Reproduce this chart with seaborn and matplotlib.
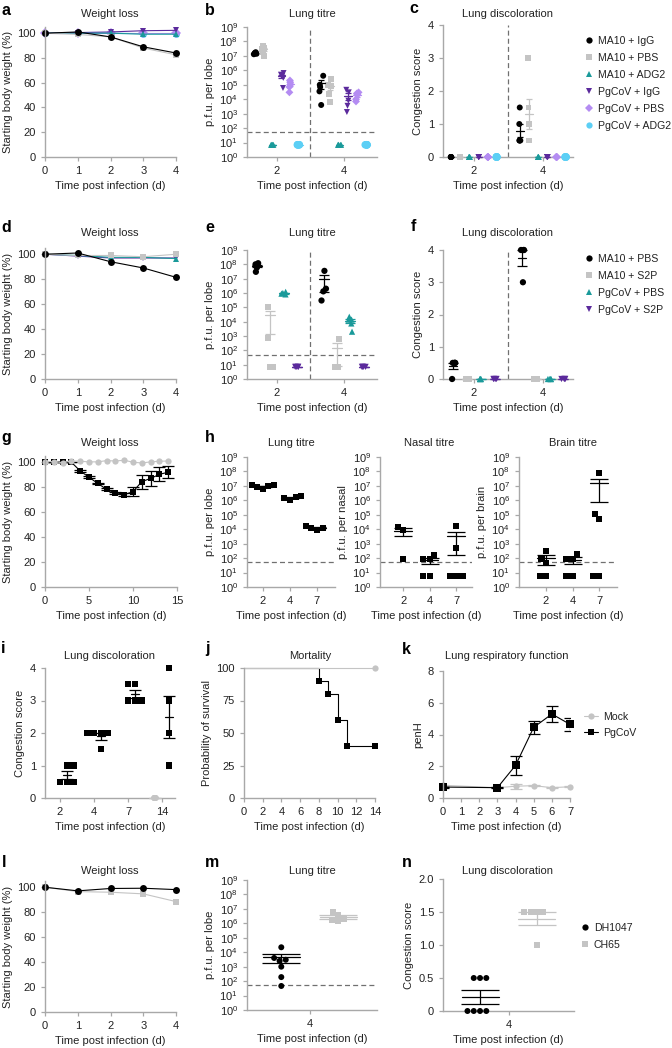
import numpy as np
import pandas as pd
import seaborn as sns
import matplotlib.pyplot as plt
from matplotlib.lines import Line2D

# ---------------- values ----------------
weight_days = [0, 1, 2, 3, 4]
titre_days = [2, 4]

# panels a-c
abc_names = ['MA10 + IgG', 'MA10 + PBS', 'MA10 + ADG2', 'PgCoV + IgG', 'PgCoV + PBS', 'PgCoV + ADG2']
abc_colors = ['#000000', '#c4c4c4', '#1a9a9a', '#5b2a9c', '#b48cf2', '#5ccff5']
abc_markers = ['o', 's', '^', 'v', 'D', 'o']
a_ma10_igg = [100, 101, 97, 89, 84]
a_ma10_pbs = [100, 99, 97, 88, 82.5]
a_ma10_adg2 = [100, 100, 100, 99.2, 99.2]
a_pgcov_igg = [100, 100.5, 101, 102, 102.3]
a_pgcov_pbs = [100, 100, 100, 100, 100]
a_pgcov_adg2 = [100, 100, 100, 99.6, 99.7]

b_ma10_igg = [[1.5e7, 1.8e7, 1.3e7, 1.6e7, 1.4e7], [4.2e5, 1.0e5, 7e4, 3.5e4, 4e3]]
b_ma10_pbs = [[3e7, 4.5e7, 1e7, 2e7, 3.5e7], [2.4e5, 9e4, 8e4, 2.2e4, 6e3]]
b_ma10_adg2 = [[7, 7, 7, 7, 7], [7, 7, 7, 7, 7]]
b_pgcov_igg = [[6.5e5, 4e5, 3e5, 6e4, 5e5], [4.5e4, 3e4, 8e3, 3.5e3, 1.3e3]]
b_pgcov_pbs = [[2e5, 1.5e5, 7e4, 3e4, 1e5], [3e4, 2e4, 1e4, 7e3, 2.5e4]]
b_pgcov_adg2 = [[7, 7, 7, 7, 7], [7, 7, 7, 7, 7]]

c_ma10_igg = [[0, 0, 0, 0, 0], [1.5, 1.0, 0.5, 0.5, 0.5]]
c_ma10_pbs = [[0, 0, 0, 0, 0], [3.0, 1.5, 1.0, 0.5, 0.5]]
c_ma10_adg2 = [[0, 0, 0, 0, 0], [0, 0, 0, 0, 0]]
c_pgcov_igg = [[0, 0, 0, 0, 0], [0, 0, 0, 0, 0]]
c_pgcov_pbs = [[0, 0, 0, 0, 0], [0, 0, 0, 0, 0]]
c_pgcov_adg2 = [[0, 0, 0, 0, 0], [0, 0, 0, 0, 0]]

# panels d-f
def_names = ['MA10 + PBS', 'MA10 + S2P', 'PgCoV + PBS', 'PgCoV + S2P']
def_colors = ['#000000', '#c4c4c4', '#1a9a9a', '#5b2a9c']
def_markers = ['o', 's', '^', 'v']
d_ma10_pbs = [100, 101, 94, 89, 81.5]
d_ma10_s2p = [100, 99, 99, 98, 100]
d_pgcov_pbs = [100, 99, 97.5, 97.5, 96.5]
d_pgcov_s2p = [100, 98.5, 97, 97, 97]

e_ma10_pbs = [[1e8, 1.2e8, 8e7, 6e7, 3e7], [3.5e7, 2e6, 1.3e6, 3e5]]
e_ma10_s2p = [[1.1e5, 7e2, 7, 7], [6e2, 7, 7, 7]]
e_pgcov_pbs = [[1.2e6, 1e6, 9e5, 8e5], [2.2e4, 1.4e4, 1.4e4, 7.5e3, 2e3]]
e_pgcov_s2p = [[7, 7, 7, 7], [7, 7, 7, 7]]

f_ma10_pbs = [[0.5, 0.5, 0.5, 0.5, 0], [4, 4, 4, 3]]
f_ma10_s2p = [[0, 0, 0, 0], [0, 0, 0, 0]]
f_pgcov_pbs = [[0, 0, 0, 0], [0, 0, 0, 0]]
f_pgcov_s2p = [[0, 0, 0, 0], [0, 0, 0, 0]]

# panels g-k
g_days = list(range(15))
g_mock = [100.5, 100.5, 99.7, 101, 100.8, 100.3, 100.3, 101.3, 101, 101.6, 100, 99.4, 100.3, 100.8, 101]
g_pgcov = [100, 100, 100, 100, 93, 88, 83, 78.3, 75, 74, 76.4, 84.5, 87, 90.3, 92]
g_pgcov_sem = [0, 0, 0, 0, 0.6, 0.6, 0.6, 0.8, 0.8, 1.0, 3.8, 5.6, 6.2, 5.6, 4.8]

h_days = [2, 4, 7]
h_lung = [[8.5e6, 1.2e7, 1.1e7, 5.9e6, 1e7], [1.7e6, 1.9e6, 1.55e6, 1.1e6], [9.3e3, 1.6e4, 1.3e4, 1.3e4]]
h_nasal = [[1.5e4, 8.5e3, 90], [170, 90, 90, 6, 6], [1.6e4, 480, 6, 6, 6]]
h_brain = [[45, 330, 90, 6, 6], [90, 190, 90, 6, 6], [8e7, 5e4, 1.1e5, 6, 6]]

i_days = [2, 4, 7, 14]
i_mock = [[], [], [], [0, 0, 0, 0, 0]]
i_pgcov = [[1.0, 1.0, 0.5, 0.5, 0.5], [2.0, 2.0, 2.0, 2.0, 1.5], [3.5, 3.5, 3.0, 3.0, 3.0], [4.0, 3.0, 2.0, 1.0]]

j_days_mock = [0, 14]
j_surv_mock = [100, 100]
j_days_pgcov = [0, 8, 9, 10, 11, 14]
j_surv_pgcov = [100, 90, 80, 60, 40, 40]

k_days = [0, 3, 4, 5, 6, 7]
k_mock = [0.8, 0.65, 0.74, 0.78, 0.65, 0.71]
k_mock_sem = [0.03, 0.02, 0.15, 0.05, 0.04, 0.04]
k_pgcov = [0.69, 0.65, 2.06, 4.45, 5.29, 4.64]
k_pgcov_sem = [0.03, 0.03, 0.58, 0.4, 0.5, 0.41]

# panels l-n
lmn_names = ['DH1047', 'CH65']
lmn_colors = ['#000000', '#c4c4c4']
l_dh1047 = [100, 97.1, 99, 99.2, 98.1]
l_ch65 = [100, 96.5, 96, 94.7, 88.5]
m_dh1047 = [2.2e4, 4e3, 3e3, 2.5e3, 1e3, 190, 46]
m_ch65 = [5.7e6, 3.8e6, 1.9e6, 1.7e6, 1.35e6]
n_dh1047 = [0, 0, 0, 0, 0.5, 0.5, 0.5]
n_ch65 = [1.5, 1.5, 1.5, 1.5, 1.0]

# ---------------- style ----------------
sns.set_theme(style='ticks')
plt.rcParams['font.family'] = ['Liberation Sans', 'DejaVu Sans']
plt.rcParams.update({
    'font.size': 8, 'axes.labelsize': 8, 'xtick.labelsize': 8, 'ytick.labelsize': 8,
    'legend.fontsize': 7.6, 'axes.edgecolor': '#a8a8a8', 'axes.linewidth': 1.0,
    'xtick.color': '#a8a8a8', 'ytick.color': '#a8a8a8',
    'xtick.labelcolor': '#222222', 'ytick.labelcolor': '#222222',
    'axes.labelcolor': '#222222', 'text.color': '#222222',
    'xtick.major.size': 3, 'ytick.major.size': 3, 'xtick.major.width': 0.9, 'ytick.major.width': 0.9,
    'lines.linewidth': 0.8, 'axes.labelpad': 3.5,
    'mathtext.fontset': 'custom', 'mathtext.rm': 'Liberation Sans',
})
np.random.seed(3)

W, H = 672, 1048
fig = plt.figure(figsize=(W / 100, H / 100), dpi=100)
XLAB = 'Time post infection (d)'
LOD_KW = dict(color='#707070', lw=0.9, ls=(0, (4, 2.5)), zorder=1)
LW = 0.8


def add_ax(x0, x1, y0, y1):
    return fig.add_axes([x0 / W, 1 - y1 / H, (x1 - x0) / W, (y1 - y0) / H])


def ftext(x, y, s, **kw):
    fig.text(x / W, 1 - y / H, s, **kw)


def letter(x, y, s):
    ftext(x, y, s, fontsize=11.5, fontweight='bold', color='black', va='baseline')


def title(x, y, s):
    ftext(x, y, s, ha='center', va='center')


def finish(ax, ylabel):
    sns.despine(ax=ax)
    ax.set_xlabel(XLAB)
    ax.set_ylabel(ylabel)


def log_axis(ax):
    ax.set_yscale('log')
    ax.set_ylim(1, 1e9)
    ax.set_yticks([10.0 ** k for k in range(10)])
    ax.set_yticklabels(['$\\mathregular{10^{%d}}$' % k for k in range(10)])
    ax.minorticks_off()


def mean_sem(ax, x, vals, color, hw, cap, log=False):
    vals = np.asarray(vals, float)
    m = vals.mean()
    s = vals.std(ddof=1) / np.sqrt(len(vals))
    lo = min(s, m * 0.95) if log else s
    ax.errorbar([x], [m], yerr=[[lo], [s]], fmt='none', ecolor=color, elinewidth=0.9,
                capsize=cap, capthick=0.9, zorder=4, clip_on=False)
    ax.plot([x - hw, x + hw], [m, m], color=color, linewidth=0.9, zorder=4)


def dot_panel(ax, days, groups, names, colors, markers, sizes, kinds,
              jitter=0.1, hw=0.06, cap=2, log=False):
    order = [str(d) for d in days]
    n = len(names)
    offs = np.linspace(0, 0.8 - 0.8 / n, n)
    offs -= offs.mean()
    pal = dict(zip(names, colors))
    for gi in range(n):
        present = [(di, v) for di, v in enumerate(groups[gi]) if len(v)]
        df = pd.DataFrame({
            'day': np.concatenate([[order[di]] * len(v) for di, v in present]),
            'value': np.concatenate([v for _, v in present]).astype(float),
            'group': names[gi]})
        kw = dict(data=df, x='day', y='value', hue='group', hue_order=names, order=order,
                  palette=pal, dodge=True, marker=markers[gi], size=sizes[gi],
                  legend=False, ax=ax, zorder=3, clip_on=False)
        if kinds[gi] == 'swarm':
            sns.swarmplot(**kw)
        else:
            sns.stripplot(jitter=jitter, **kw)
        for di, v in present:
            mean_sem(ax, di + offs[gi], v, colors[gi], hw, cap, log)


def weight_panel(ax, days, series, names, colors, markers, ms=5):
    df = pd.DataFrame({'day': np.tile(days, len(series)),
                       'weight': np.concatenate(series),
                       'group': np.repeat(names, len(days))})
    sns.lineplot(data=df, x='day', y='weight', hue='group', style='group',
                 hue_order=names[::-1], style_order=names[::-1],
                 palette=dict(zip(names, colors)), markers=dict(zip(names, markers)),
                 dashes=False, linewidth=LW, markersize=ms, markeredgewidth=0,
                 errorbar=None, legend=False, ax=ax, clip_on=False)
    ax.set_xlim(0, days[-1])
    ax.set_ylim(0, 105)
    ax.set_xticks(days)
    ax.set_yticks([0, 20, 40, 60, 80, 100])
    finish(ax, 'Starting body weight (%)')


def marker_legend(names, colors, markers, x, y, ms=4.5):
    handles = [Line2D([], [], ls='', marker=mk, color=c, ms=ms, mew=0)
               for c, mk in zip(colors, markers)]
    fig.legend(handles, names, loc='upper left', bbox_to_anchor=(x / W, 1 - y / H),
               frameon=False, handlelength=0.8, handletextpad=0.4, labelspacing=0.66,
               borderpad=0, borderaxespad=0)


# ---------------- row 1: a b c ----------------
ax_a = add_ax(45, 176, 27, 157)
weight_panel(ax_a, weight_days,
             [a_ma10_igg, a_ma10_pbs, a_ma10_adg2, a_pgcov_igg, a_pgcov_pbs, a_pgcov_adg2],
             abc_names, abc_colors, abc_markers)

ax_b = add_ax(247, 377, 27, 157)
dot_panel(ax_b, titre_days,
          [b_ma10_igg, b_ma10_pbs, b_ma10_adg2, b_pgcov_igg, b_pgcov_pbs, b_pgcov_adg2],
          abc_names, abc_colors, abc_markers, [4.3, 4.3, 4.3, 4.3, 4.0, 5.5], ['strip'] * 6,
          jitter=0.2, hw=0.055, cap=2, log=True)
log_axis(ax_b)
ax_b.axhline(50, **LOD_KW)
ax_b.axvline(0.5, **LOD_KW)
ax_b.set_xlim(-0.45, 1.5)
finish(ax_b, 'p.f.u. per lobe')

ax_c = add_ax(443, 573, 25, 157)
dot_panel(ax_c, titre_days,
          [c_ma10_igg, c_ma10_pbs, c_ma10_adg2, c_pgcov_igg, c_pgcov_pbs, c_pgcov_adg2],
          abc_names, abc_colors, abc_markers, [4.3, 4.3, 4.3, 4.3, 4.0, 5.5], ['strip'] * 6,
          jitter=0.05, hw=0.055, cap=2)
ax_c.axvline(0.5, **LOD_KW)
ax_c.set_xlim(-0.45, 1.44)
ax_c.set_ylim(0, 4)
ax_c.set_yticks([0, 1, 2, 3, 4])
finish(ax_c, 'Congestion score')
marker_legend(abc_names, abc_colors, abc_markers, 585, 36)

# ---------------- row 2: d e f ----------------
ax_d = add_ax(45, 176, 248, 379)
weight_panel(ax_d, weight_days, [d_ma10_pbs, d_ma10_s2p, d_pgcov_pbs, d_pgcov_s2p],
             def_names, def_colors, def_markers)

ax_e = add_ax(247, 377, 250, 379)
dot_panel(ax_e, titre_days, [e_ma10_pbs, e_ma10_s2p, e_pgcov_pbs, e_pgcov_s2p],
          def_names, def_colors, def_markers, [4.5] * 4, ['strip'] * 4,
          jitter=0.15, hw=0.075, cap=3.5, log=True)
log_axis(ax_e)
ax_e.axhline(50, **LOD_KW)
ax_e.axvline(0.5, **LOD_KW)
ax_e.set_xlim(-0.45, 1.5)
finish(ax_e, 'p.f.u. per lobe')

ax_f = add_ax(443, 573, 250, 379)
dot_panel(ax_f, titre_days, [f_ma10_pbs, f_ma10_s2p, f_pgcov_pbs, f_pgcov_s2p],
          def_names, def_colors, def_markers, [4.5] * 4, ['strip'] * 4,
          jitter=0.12, hw=0.06, cap=3.5)
ax_f.axvline(0.5, **LOD_KW)
ax_f.set_xlim(-0.45, 1.44)
ax_f.set_ylim(0, 4)
ax_f.set_yticks([0, 1, 2, 3, 4])
finish(ax_f, 'Congestion score')
marker_legend(def_names, def_colors, def_markers, 585, 254)

# ---------------- row 3: g h ----------------
ax_g = add_ax(45, 177, 456, 587)
sns.lineplot(x=g_days, y=g_pgcov, color='black', marker='s', markersize=5, markeredgewidth=0,
             linewidth=LW, ax=ax_g, clip_on=False)
ax_g.errorbar(g_days, g_pgcov, yerr=g_pgcov_sem, fmt='none', ecolor='black', elinewidth=0.9,
              capsize=4, capthick=0.9, zorder=2)
sns.lineplot(x=g_days, y=g_mock, color='#c4c4c4', marker='o', markersize=4.5, markeredgewidth=0,
             linewidth=LW, ax=ax_g, clip_on=False)
ax_g.set_xlim(0, 15)
ax_g.set_ylim(0, 105)
ax_g.set_xticks([0, 5, 10, 15])
ax_g.set_yticks([0, 20, 40, 60, 80, 100])
finish(ax_g, 'Starting body weight (%)')

h_specs = [(h_lung, 'p.f.u. per lobe', 247, 335, (-0.59, 2.67)),
           (h_nasal, 'p.f.u. per nasal', 380, 472, (-0.87, 2.6)),
           (h_brain, 'p.f.u. per brain', 519, 617, (-1.02, 2.68))]
for vals, ylab, x0, x1, xl in h_specs:
    ax_h = add_ax(x0, x1, 457, 587)
    dot_panel(ax_h, h_days, [vals], ['PgCoV'], ['black'], ['s'], [4.4], ['swarm'],
              hw=0.33, cap=6.5, log=True)
    log_axis(ax_h)
    ax_h.axhline(50, **LOD_KW)
    ax_h.set_xlim(*xl)
    finish(ax_h, ylab)

# ---------------- row 4: i j k ----------------
ax_i = add_ax(45, 175, 668, 798)
dot_panel(ax_i, i_days, [i_mock, i_pgcov], ['Mock', 'PgCoV'], ['#c4c4c4', 'black'],
          ['o', 's'], [4.3, 4.6], ['strip', 'swarm'], jitter=0.08, hw=0.11, cap=4)
ax_i.set_xlim(-0.44, 3.38)
ax_i.set_ylim(0, 4)
ax_i.set_yticks([0, 1, 2, 3, 4])
finish(ax_i, 'Congestion score')

ax_j = add_ax(244, 375, 668, 798)
sns.lineplot(x=j_days_pgcov, y=j_surv_pgcov, color='black', drawstyle='steps-post', linewidth=LW,
             marker='s', markersize=5, markeredgewidth=0, markevery=[1, 2, 3, 4, 5], ax=ax_j,
             clip_on=False)
sns.lineplot(x=j_days_mock, y=j_surv_mock, color='#c4c4c4', drawstyle='steps-post', linewidth=LW,
             marker='o', markersize=4.5, markeredgewidth=0, markevery=[1], ax=ax_j, clip_on=False)
ax_j.set_xlim(0, 14)
ax_j.set_ylim(0, 100)
ax_j.set_xticks(range(0, 15, 2))
ax_j.set_yticks([0, 25, 50, 75, 100])
finish(ax_j, 'Probability of survival')

ax_k = add_ax(443, 570, 671, 798)
sns.lineplot(x=k_days, y=k_mock, color='#c4c4c4', marker='o', markersize=4.5, markeredgewidth=0,
             linewidth=LW, ax=ax_k, clip_on=False)
ax_k.errorbar(k_days, k_mock, yerr=k_mock_sem, fmt='none', ecolor='#c4c4c4', elinewidth=0.9,
              capsize=4, capthick=0.9)
sns.lineplot(x=k_days, y=k_pgcov, color='black', marker='s', markersize=5.5, markeredgewidth=0,
             linewidth=LW, ax=ax_k, clip_on=False)
ax_k.errorbar(k_days, k_pgcov, yerr=k_pgcov_sem, fmt='none', ecolor='black', elinewidth=0.9,
              capsize=4, capthick=0.9)
ax_k.set_xlim(0, 7)
ax_k.set_ylim(0, 8)
ax_k.set_xticks(range(8))
ax_k.set_yticks([0, 2, 4, 6, 8])
finish(ax_k, 'penH')
k_handles = [Line2D([], [], color='#c4c4c4', marker='o', ms=4.5, mew=0, lw=LW),
             Line2D([], [], color='black', marker='s', ms=5, mew=0, lw=LW)]
fig.legend(k_handles, ['Mock', 'PgCoV'], loc='upper left', bbox_to_anchor=(584 / W, 1 - 712 / H),
           frameon=False, handlelength=1.35, handletextpad=0.45, labelspacing=0.55,
           borderpad=0, borderaxespad=0)

# ---------------- row 5: l m n ----------------
ax_l = add_ax(45, 176, 881, 1012)
weight_panel(ax_l, weight_days, [l_dh1047, l_ch65], lmn_names, lmn_colors, ['o', 's'])

ax_m = add_ax(247, 377, 880, 1010)
dot_panel(ax_m, [4], [[m_dh1047], [m_ch65]], lmn_names, lmn_colors, ['o', 's'], [4.3, 4.3],
          ['swarm', 'swarm'], hw=0.13, cap=14, log=True)
log_axis(ax_m)
ax_m.axhline(50, **LOD_KW)
ax_m.set_xlim(-0.44, 0.47)
finish(ax_m, 'p.f.u. per lobe')

ax_n = add_ax(443, 574, 879, 1011)
dot_panel(ax_n, [4], [[n_dh1047], [n_ch65]], lmn_names, lmn_colors, ['o', 's'], [4.3, 4.3],
          ['swarm', 'swarm'], hw=0.13, cap=14)
ax_n.set_xlim(-0.46, 0.46)
ax_n.set_ylim(0, 2)
ax_n.set_yticks([0, 0.5, 1.0, 1.5, 2.0])
ax_n.set_yticklabels(['0', '0.5', '1.0', '1.5', '2.0'])
finish(ax_n, 'Congestion score')
marker_legend(lmn_names, lmn_colors, ['o', 's'], 581, 923)

# ---------------- titles and panel letters ----------------
for x, y, s in [(110, 14, 'Weight loss'), (312, 14, 'Lung titre'), (508, 14, 'Lung discoloration'),
                (110, 233, 'Weight loss'), (312, 233, 'Lung titre'), (508, 233, 'Lung discoloration'),
                (110, 443, 'Weight loss'), (291, 443, 'Lung titre'), (429, 443, 'Nasal titre'),
                (573, 443, 'Brain titre'),
                (110, 656, 'Lung discoloration'), (310, 656, 'Mortality'),
                (507, 656, 'Lung respiratory function'),
                (110, 871, 'Weight loss'), (312, 871, 'Lung titre'), (507, 871, 'Lung discoloration')]:
    title(x, y, s)

for x, y, s in [(1, 15, 'a'), (205, 15, 'b'), (409, 13, 'c'),
                (1, 232, 'd'), (205, 232, 'e'), (411, 231, 'f'),
                (1, 442, 'g'), (205, 442, 'h'),
                (1, 653, 'i'), (205, 653, 'j'), (402, 654, 'k'),
                (2, 867, 'l'), (205, 867, 'm'), (402, 867, 'n')]:
    letter(x, y, s)

fig.savefig('out.png', dpi=100)
